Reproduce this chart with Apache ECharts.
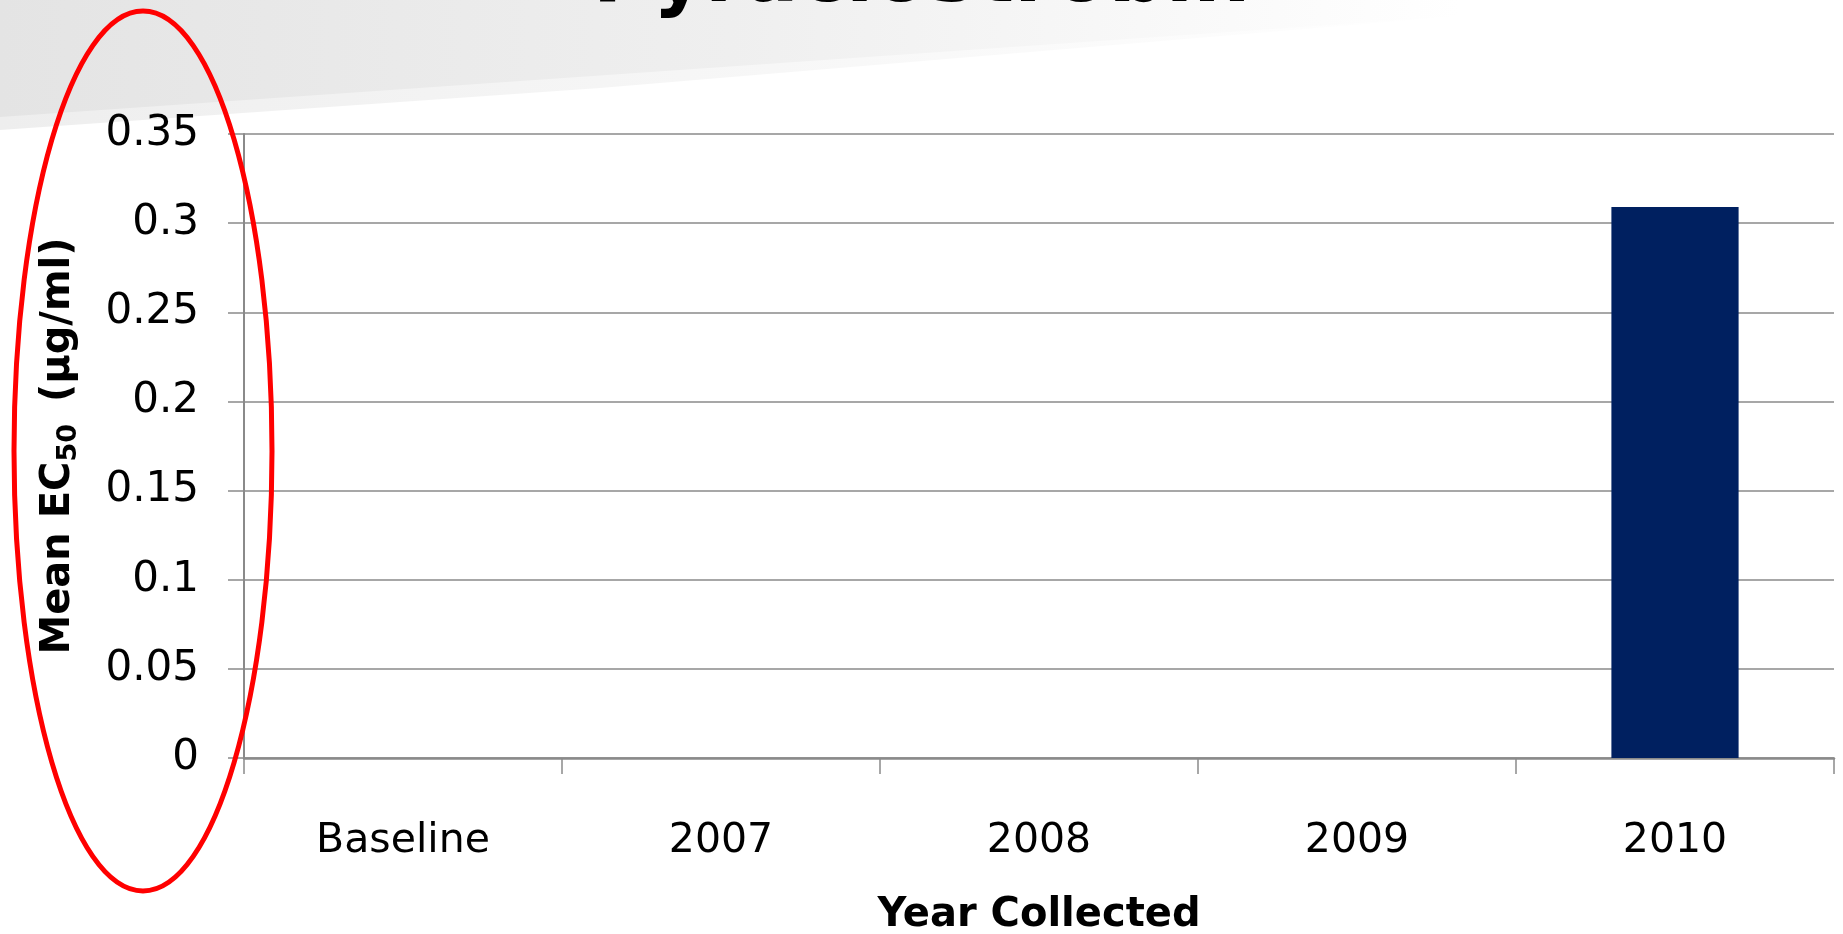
<!DOCTYPE html>
<html>
<head>
<meta charset="utf-8">
<script src="https://cdn.jsdelivr.net/npm/echarts@6/dist/echarts.min.js"></script>
<style>
  html, body { margin: 0; padding: 0; background: #fff; }
  #chart { width: 1843px; height: 934px; }
</style>
</head>
<body>
<div id="chart"></div>
<script>
// data
const categories = ['Baseline', '2007', '2008', '2009', '2010']
const meanEC50 = [null, null, null, null, 0.309]
const yTicks = { min: 0, max: 0.35, interval: 0.05 }

const FONT = 'DejaVu Sans'
const GRID_GREY = '#8a8a8a'

const chart = echarts.init(document.getElementById('chart'), null, { renderer: 'canvas' })

chart.setOption({
  backgroundColor: '#ffffff',
  animation: false,
  title: {
    text: 'Pyraclostrobin',
    left: 'center',
    top: -65,
    textStyle: { fontFamily: FONT, fontSize: 80, fontWeight: 'bold', color: '#000' }
  },
  graphic: [
    // grey slide header wedge
    {
      type: 'polygon',
      z: -10,
      silent: true,
      shape: { points: [[0, 0], [1460, 0], [1460, 16], [600, 88], [0, 130]] },
      style: {
        fill: new echarts.graphic.LinearGradient(0, 0, 1, 0, [
          { offset: 0, color: '#eeeeee' },
          { offset: 1, color: '#ffffff' }
        ])
      }
    },
    {
      type: 'polygon',
      z: -9,
      silent: true,
      shape: { points: [[0, 0], [1460, 0], [1460, 16], [0, 117]] },
      style: {
        fill: new echarts.graphic.LinearGradient(0, 0, 1, 0, [
          { offset: 0, color: '#e4e4e4' },
          { offset: 0.5, color: '#efefef' },
          { offset: 1, color: '#ffffff' }
        ])
      }
    },
    // red annotation round the y axis
    {
      type: 'ellipse',
      z: 100,
      silent: true,
      shape: { cx: 143, cy: 451, rx: 129, ry: 440 },
      style: { fill: null, stroke: '#ff0000', lineWidth: 5 }
    }
  ],
  grid: { left: 244, right: 9, top: 134, bottom: 176, outerBoundsMode: 'none', containLabel: false },
  xAxis: {
    type: 'category',
    data: categories,
    name: 'Year Collected',
    nameLocation: 'middle',
    nameGap: 138,
    nameTextStyle: { fontFamily: FONT, fontSize: 40, fontWeight: 'bold', color: '#000' },
    axisLine: { lineStyle: { color: GRID_GREY, width: 2.5 } },
    axisTick: { show: true, length: 16, alignWithLabel: false, lineStyle: { color: GRID_GREY, width: 1.5 } },
    axisLabel: { fontFamily: FONT, fontSize: 41, color: '#000', margin: 63 }
  },
  yAxis: {
    type: 'value',
    min: yTicks.min,
    max: yTicks.max,
    interval: yTicks.interval,
    name: 'Mean EC{s|50} (µg/ml)',
    nameLocation: 'middle',
    nameGap: 162,
    nameTextStyle: {
      fontFamily: FONT,
      fontSize: 40,
      fontWeight: 'bold',
      color: '#000',
      rich: {
        s: { fontFamily: FONT, fontSize: 27, fontWeight: 'bold', color: '#000', verticalAlign: 'bottom', padding: [20, 8, 0, 0] }
      }
    },
    axisLine: { show: true, lineStyle: { color: GRID_GREY, width: 2 } },
    axisTick: { show: true, length: 16, lineStyle: { color: GRID_GREY, width: 1.5 } },
    axisLabel: { fontFamily: FONT, fontSize: 42, color: '#000', margin: 45 },
    splitLine: { lineStyle: { color: GRID_GREY, width: 1.5 } }
  },
  series: [
    {
      type: 'bar',
      data: meanEC50,
      barWidth: '40%',
      itemStyle: { color: '#002060' }
    }
  ]
})
</script>
</body>
</html>
